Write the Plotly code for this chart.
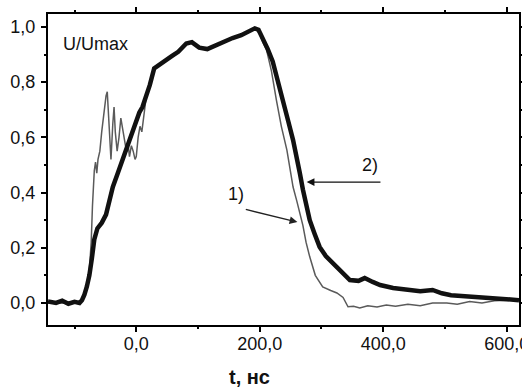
import plotly.graph_objects as go

# Curve 2 (thick black)
t2 = [-143, -130, -120, -110, -100, -92, -88, -84, -80, -76, -72, -68, -63, -56, -49, -44, -38, -30, -22,
      -16, -8, 0, 5, 10, 16, 22, 29, 38, 48, 58, 68, 81, 90, 102, 115, 130, 145, 156, 170, 183, 192, 198,
      205, 213, 221, 229, 237, 246, 254, 260, 265, 270, 275, 281, 289, 297, 307, 318, 330, 346, 360, 370,
      383, 395, 416, 440, 460, 480, 495, 510, 530, 550, 570, 590, 610, 620]
u2 = [0.005, 0.0, 0.008, -0.003, 0.004, 0.0, 0.01, 0.03, 0.06, 0.10, 0.16, 0.23, 0.27, 0.29, 0.32, 0.37,
      0.42, 0.47, 0.52, 0.555, 0.61, 0.66, 0.69, 0.71, 0.745, 0.79, 0.85, 0.865, 0.88, 0.895, 0.91, 0.94,
      0.945, 0.925, 0.92, 0.935, 0.95, 0.96, 0.97, 0.985, 0.995, 0.99, 0.96, 0.92, 0.875, 0.81, 0.735,
      0.66, 0.59, 0.53, 0.47, 0.41, 0.36, 0.30, 0.25, 0.203, 0.17, 0.145, 0.12, 0.083, 0.08, 0.09, 0.076,
      0.065, 0.054, 0.048, 0.042, 0.047, 0.035, 0.028, 0.025, 0.02, 0.018, 0.015, 0.012, 0.01]

# Curve 1 (thin gray)
t1 = [-143, -100, -88, -80, -76, -73, -71, -70, -68, -66, -64, -62, -59, -56, -52, -49, -47, -45, -43,
      -41, -38, -36, -34, -31, -28, -25, -22, -19, -16, -13, -11, -8, -5, -2, 0, 3, 6, 9, 12, 14, 16, 22,
      29, 38, 48, 58, 68, 81, 90, 102, 115, 130, 145, 156, 170, 183, 192, 200, 205, 211, 219, 227, 235,
      244, 254, 260, 265, 270, 275, 281, 290, 302, 315, 325, 335, 343, 352, 362, 375, 390, 405, 420, 440,
      460, 480, 503, 520, 540, 560, 580, 600, 620]
u1 = [0.0, 0.0, 0.01, 0.06, 0.12, 0.22, 0.35, 0.42, 0.48, 0.51, 0.47, 0.52, 0.55, 0.62, 0.70, 0.75, 0.765,
      0.68, 0.58, 0.52, 0.65, 0.71, 0.62, 0.55, 0.60, 0.67, 0.63, 0.58, 0.55, 0.57, 0.53, 0.57, 0.55, 0.52,
      0.53, 0.60, 0.64, 0.62, 0.675, 0.70, 0.745, 0.79, 0.85, 0.865, 0.88, 0.895, 0.91, 0.94, 0.945, 0.925,
      0.92, 0.935, 0.95, 0.96, 0.97, 0.985, 0.995, 0.975, 0.945, 0.917, 0.84, 0.735, 0.64, 0.554, 0.42,
      0.37, 0.326, 0.28, 0.22, 0.167, 0.10, 0.058, 0.045, 0.036, 0.02, -0.014, -0.012, -0.018, -0.01,
      -0.015, -0.008, -0.012, -0.005, -0.01, 0.0, 0.0, -0.005, 0.005, 0.0, 0.008, 0.01, 0.012]

X_RANGE = [-143, 620]
Y_RANGE = [-0.08, 1.047]
FONT = "Liberation Sans, Arial, sans-serif"

fig = go.Figure()
fig.add_trace(go.Scatter(x=t1, y=u1, mode="lines", line=dict(color="#5a5a5a", width=1.5),
                         showlegend=False, hoverinfo="skip"))
fig.add_trace(go.Scatter(x=t2, y=u2, mode="lines", line=dict(color="#111111", width=4.5),
                         showlegend=False, hoverinfo="skip"))
# invisible carrier trace for the minor-tick axes
fig.add_trace(go.Scatter(x=t2, y=u2, mode="lines", line=dict(width=0), opacity=0,
                         xaxis="x2", yaxis="y2", showlegend=False, hoverinfo="skip"))

tickfont = dict(family=FONT, size=18, color="#111")
major = dict(showgrid=False, zeroline=False, showline=True, linecolor="black", linewidth=2,
             mirror="ticks", ticks="outside", ticklen=5, tickwidth=2, tickcolor="black",
             tickfont=tickfont, tickformat=".1f", automargin=False)
minor = dict(showgrid=False, zeroline=False, showline=False, mirror="ticks", ticks="outside",
             ticklen=3, tickwidth=2, tickcolor="black", showticklabels=False, automargin=False)

fig.update_layout(
    xaxis=dict(range=X_RANGE, tick0=0, dtick=200, ticklabeloverflow="allow",
               ticklabelstandoff=-4, **major),
    yaxis=dict(range=Y_RANGE, tick0=0, dtick=0.2, ticklabelstandoff=2, **major),
    xaxis2=dict(range=X_RANGE, tick0=0, dtick=100, overlaying="x", side="bottom", **minor),
    yaxis2=dict(range=Y_RANGE, tick0=0, dtick=0.1, overlaying="y", side="left", **minor),
)

fig.add_annotation(x=-122, y=0.94, xref="x", yref="y", text="U/Umax", showarrow=False,
                   xanchor="left", yanchor="middle", font=dict(family=FONT, size=18, color="#111"))
fig.add_annotation(x=0.428, y=-0.167, xref="paper", yref="paper", text="<b>t, нс</b>", showarrow=False,
                   xanchor="center", yanchor="middle", font=dict(family=FONT, size=20, color="#111"))
fig.add_annotation(x=161, y=0.395, xref="x", yref="y", text="1)", showarrow=False,
                   font=dict(family=FONT, size=18, color="#111"))
fig.add_annotation(x=378, y=0.50, xref="x", yref="y", text="2)", showarrow=False,
                   font=dict(family=FONT, size=18, color="#111"))
fig.add_annotation(x=261, y=0.293, ax=175, ay=0.34, xref="x", yref="y", axref="x", ayref="y",
                   text="", showarrow=True, arrowhead=2, arrowsize=1.2, arrowwidth=1.3, arrowcolor="#222")
fig.add_annotation(x=276, y=0.438, ax=398, ay=0.438, xref="x", yref="y", axref="x", ayref="y",
                   text="", showarrow=True, arrowhead=2, arrowsize=1.2, arrowwidth=1.3, arrowcolor="#111")

fig.update_layout(width=522, height=387, margin=dict(l=48, r=3, t=14, b=62),
                  plot_bgcolor="white", paper_bgcolor="white", separators=", ")

fig.write_html("out.html", config={"displayModeBar": False},
               post_script="document.body.style.margin='0';")
